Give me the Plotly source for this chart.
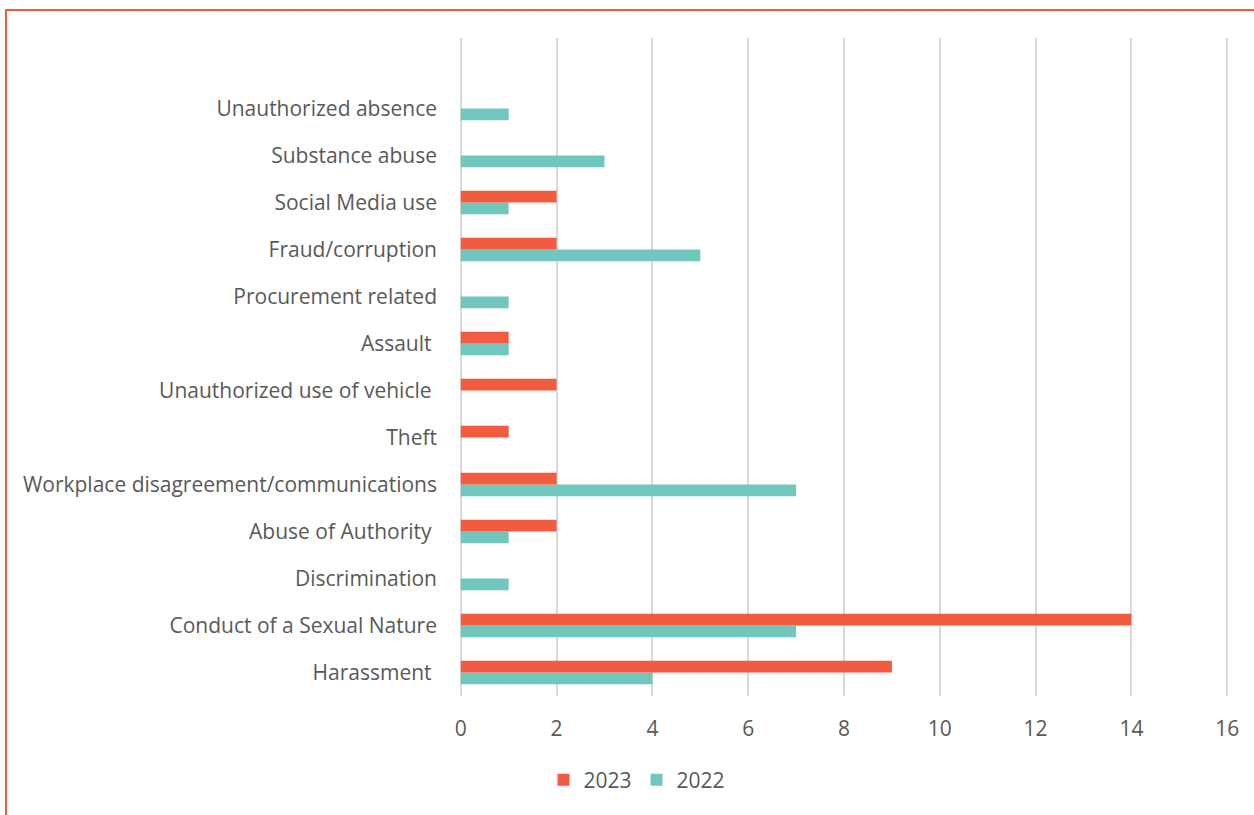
import plotly.graph_objects as go

# Misconduct categories, listed bottom to top as they appear on the axis
categories = [
    "Harassment ",
    "Conduct of a Sexual Nature",
    "Discrimination",
    "Abuse of Authority ",
    "Workplace disagreement/communications",
    "Theft",
    "Unauthorized use of vehicle ",
    "Assault ",
    "Procurement related",
    "Fraud/corruption",
    "Social Media use",
    "Substance abuse",
    "Unauthorized absence",
]
cases_2023 = [9, 14, 0, 2, 2, 1, 2, 1, 0, 2, 2, 0, 0]
cases_2022 = [4, 7, 1, 1, 7, 0, 0, 1, 1, 5, 1, 3, 1]
x_ticks = [0, 2, 4, 6, 8, 10, 12, 14, 16]

ORANGE = "#F15B40"
TEAL = "#71C7BD"
TEXT = "#595959"
GRID = "#D9D9D9"
FONT = "Open Sans"
FSIZE = 21

W, H = 1254, 815
ML, MR, MT, MB = 456, 22, 38, 119
PW, PH = W - ML - MR, H - MT - MB


def px_to_paper_x(px):
    return (px - ML) / PW


def px_to_paper_y(py):
    return (H - MB - py) / PH


fig = go.Figure()
# 2022 first so it sits below 2023 within each group
fig.add_trace(go.Bar(
    y=categories, x=cases_2022, name="2022", orientation="h",
    marker=dict(color=TEAL, line=dict(width=0)), legendrank=2,
))
fig.add_trace(go.Bar(
    y=categories, x=cases_2023, name="2023", orientation="h",
    marker=dict(color=ORANGE, line=dict(width=0)), legendrank=1,
))

fig.update_layout(
    width=W, height=H,
    margin=dict(l=ML, r=MR, t=MT, b=MB, autoexpand=False),
    paper_bgcolor="white", plot_bgcolor="white",
    barmode="group", bargap=0.5, bargroupgap=0,
    font=dict(family=FONT, size=FSIZE, color=TEXT),
    showlegend=True,
    legend=dict(
        orientation="h", x=px_to_paper_x(637), xanchor="center",
        y=px_to_paper_y(780), yanchor="middle",
        font=dict(family=FONT, size=FSIZE, color=TEXT),
        bgcolor="rgba(0,0,0,0)", itemwidth=30,
    ),
    xaxis=dict(
        range=[-0.1, 16.1], tickvals=x_ticks, showgrid=True,
        gridcolor=GRID, gridwidth=2,
        zeroline=True, zerolinecolor=GRID, zerolinewidth=2,
        showline=False, ticks="", ticklabelstandoff=18,
        tickfont=dict(family=FONT, size=FSIZE, color=TEXT), fixedrange=True,
    ),
    yaxis=dict(
        type="category", categoryorder="array", categoryarray=categories,
        range=[-0.5, 13.5], showgrid=False, zeroline=False, showline=False,
        ticks="", ticklabelstandoff=18,
        tickfont=dict(family=FONT, size=FSIZE, color=TEXT), fixedrange=True,
    ),
    shapes=[dict(
        type="rect", xref="paper", yref="paper",
        x0=px_to_paper_x(6), x1=px_to_paper_x(1262),
        y0=px_to_paper_y(822), y1=px_to_paper_y(10),
        line=dict(color=ORANGE, width=2), fillcolor="rgba(0,0,0,0)",
        layer="below",
    )],
)

fig.write_html("out.html")
